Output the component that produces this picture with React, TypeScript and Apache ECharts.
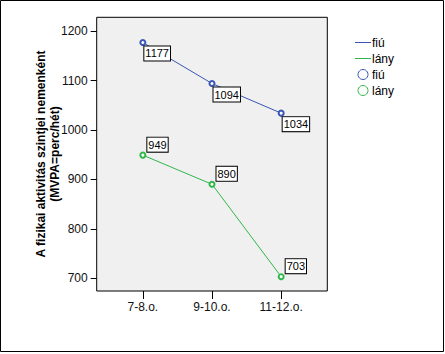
import React, { useEffect, useRef } from "react";
import * as echarts from "echarts";

const categories = ["7-8.o.", "9-10.o.", "11-12.o."];
const fiuValues = [1177, 1094, 1034];
const lanyValues = [949, 890, 703];
const yTicks = [700, 800, 900, 1000, 1100, 1200];
const seriesNames = ["fiú", "lány"];
const yAxisTitle = "A fizikai aktivitás szintjei nemenként\n(MVPA=perc/hét)";

const BLUE = "#3a55b5";
const GREEN = "#2fb84a";
const FONT = "Arial, 'Liberation Sans', sans-serif";

export default function App() {
  const ref = useRef<HTMLDivElement>(null);
  useEffect(() => {
    if (!ref.current) return;
    const chart = echarts.init(ref.current, null, { renderer: "svg" });
    const toPairs = (vals: number[]) => vals.map((v, i) => [i + 1, v]);
    const labelBase = {
      show: true,
      formatter: (p: any) => String(p.value[1]),
      fontFamily: FONT,
      fontSize: 11,
      color: "#000",
      backgroundColor: "#fff",
      borderColor: "#000",
      borderWidth: 1,
      padding: [1, 1, 1, 1],
      lineHeight: 12,
    };
    chart.setOption({
      animation: false,
      grid: {
        left: 96.7,
        top: 17.3,
        width: 230.6,
        height: 273.7,
        show: true,
        backgroundColor: "#f0f0f0",
        borderColor: "#000",
        borderWidth: 1,
      },
      xAxis: {
        type: "value",
        min: 0.333,
        max: 3.667,
        axisLine: { show: false },
        splitLine: { show: false },
        axisTick: {
          show: true,
          customValues: [1, 2, 3],
          length: 8,
          lineStyle: { color: "#000" },
        },
        axisLabel: {
          customValues: [1, 2, 3],
          formatter: (v: number) => categories[Math.round(v) - 1] ?? "",
          fontFamily: FONT,
          fontSize: 12,
          color: "#111",
          margin: 10,
        },
      },
      yAxis: {
        type: "value",
        min: 674,
        max: 1228,
        axisLine: { show: false },
        splitLine: { show: false },
        axisTick: {
          show: true,
          customValues: yTicks,
          length: 6,
          lineStyle: { color: "#000" },
        },
        axisLabel: {
          customValues: yTicks,
          formatter: (v: number) => String(v),
          fontFamily: FONT,
          fontSize: 12,
          color: "#111",
          margin: 9,
        },
      },
      series: [
        {
          name: seriesNames[0],
          type: "line",
          data: toPairs(fiuValues),
          symbol: "emptyCircle",
          symbolSize: 5,
          itemStyle: { color: BLUE, borderWidth: 1 },
          lineStyle: { color: BLUE, width: 1 },
          label: {
            ...labelBase,
            position: [5, 7.5],
            align: "left",
            verticalAlign: "top",
          },
        },
        {
          name: seriesNames[1],
          type: "line",
          data: toPairs(lanyValues),
          symbol: "emptyCircle",
          symbolSize: 5,
          itemStyle: { color: GREEN, borderWidth: 1 },
          lineStyle: { color: GREEN, width: 1 },
          label: {
            ...labelBase,
            position: [8, 0],
            align: "left",
            verticalAlign: "bottom",
          },
        },
      ],
      graphic: [
        {
          type: "rect",
          shape: { x: 0.5, y: 0.5, width: 443, height: 351 },
          style: { fill: "none", stroke: "#000", lineWidth: 1 },
          silent: true,
        },
        {
          type: "text",
          x: 48,
          y: 154,
          rotation: Math.PI / 2,
          style: {
            text: yAxisTitle,
            fontFamily: FONT,
            fontSize: 12,
            fontWeight: "bold",
            fill: "#000",
            align: "center",
            verticalAlign: "middle",
            lineHeight: 14,
          },
        },
        {
          type: "line",
          shape: { x1: 355, y1: 42.5, x2: 371, y2: 42.5 },
          style: { stroke: BLUE, lineWidth: 1 },
        },
        {
          type: "text",
          x: 372,
          y: 42.5,
          style: { text: seriesNames[0], fontFamily: FONT, fontSize: 12, fill: "#000", verticalAlign: "middle" },
        },
        {
          type: "line",
          shape: { x1: 355, y1: 58.5, x2: 371, y2: 58.5 },
          style: { stroke: GREEN, lineWidth: 1 },
        },
        {
          type: "text",
          x: 372,
          y: 58.5,
          style: { text: seriesNames[1], fontFamily: FONT, fontSize: 12, fill: "#000", verticalAlign: "middle" },
        },
        {
          type: "circle",
          shape: { cx: 363, cy: 74.5, r: 5 },
          style: { fill: "none", stroke: BLUE, lineWidth: 1 },
        },
        {
          type: "text",
          x: 372,
          y: 74.5,
          style: { text: seriesNames[0], fontFamily: FONT, fontSize: 12, fill: "#000", verticalAlign: "middle" },
        },
        {
          type: "circle",
          shape: { cx: 363, cy: 90.5, r: 5 },
          style: { fill: "none", stroke: GREEN, lineWidth: 1 },
        },
        {
          type: "text",
          x: 372,
          y: 90.5,
          style: { text: seriesNames[1], fontFamily: FONT, fontSize: 12, fill: "#000", verticalAlign: "middle" },
        },
      ],
    });
    return () => chart.dispose();
  }, []);
  return (
    <div
      ref={ref}
      style={{ position: "fixed", left: 0, top: 0, width: 445, height: 354, background: "#fff" }}
    />
  );
}
